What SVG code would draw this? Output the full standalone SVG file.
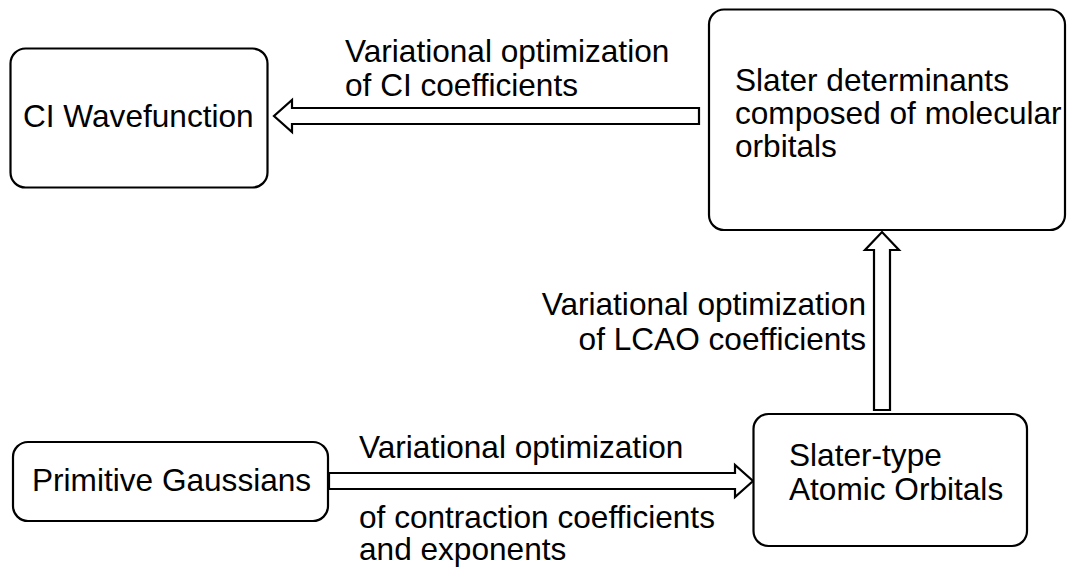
<svg xmlns="http://www.w3.org/2000/svg" width="1067" height="567" viewBox="0 0 1067 567">
<style>
.box{fill:#fff;stroke:#000;stroke-width:2.2}
.arr{fill:#fff;stroke:#000;stroke-width:2.2;stroke-linejoin:miter}
text{font-family:"Liberation Sans",Arial,Helvetica,sans-serif;font-size:31.6px;fill:#000}
</style>
<rect width="1067" height="567" fill="#fff"/>
<g id="connectors">
<path class="arr" d="M699,108 L292,108 L292,100 L274,116 L292,132 L292,124 L699,124 Z"/>
<path class="arr" d="M874,410 L874,250 L865,250 L882,232 L899,250 L890,250 L890,410 Z"/>
<path class="arr" d="M329,473 L735,473 L735,465 L753,481 L735,497 L735,489 L329,489 Z"/>
<text x="345" y="62">Variational optimization</text>
<text x="345" y="96">of CI coefficients</text>
<text x="866" y="315" text-anchor="end">Variational optimization</text>
<text x="866" y="350" text-anchor="end">of LCAO coefficients</text>
<text x="359" y="458">Variational optimization</text>
<text x="359" y="528">of contraction coefficients</text>
<text x="359" y="560">and exponents</text>
</g>
<g id="ci">
<rect class="box" x="10.5" y="48.5" width="257" height="139" rx="15"/>
<text x="23" y="127">CI Wavefunction</text>
</g>
<g id="slater-det">
<rect class="box" x="709" y="9.5" width="356" height="220.5" rx="15"/>
<text x="735" y="91">Slater determinants</text>
<text x="735" y="123.5">composed of molecular</text>
<text x="735" y="157">orbitals</text>
</g>
<g id="primitive">
<rect class="box" x="13" y="442" width="315" height="79" rx="15"/>
<text x="32" y="491">Primitive Gaussians</text>
</g>
<g id="sto">
<rect class="box" x="753.5" y="414" width="273.5" height="132" rx="15"/>
<text x="789" y="466">Slater-type</text>
<text x="789" y="500">Atomic Orbitals</text>
</g>
</svg>
